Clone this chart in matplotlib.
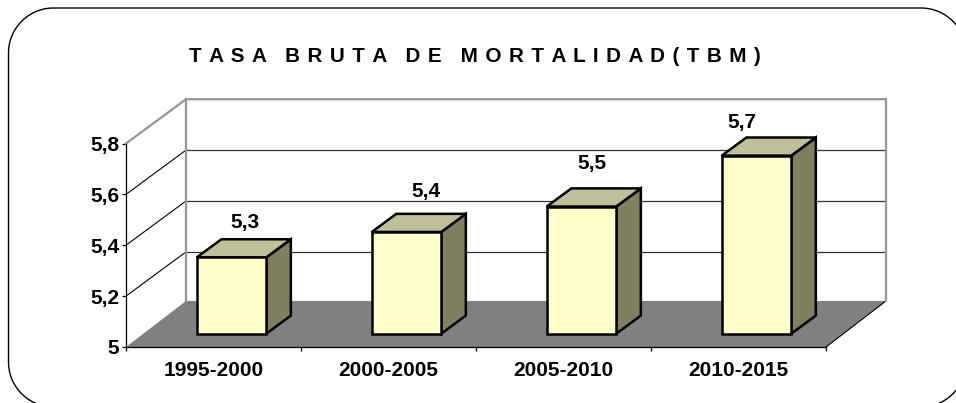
import numpy as np
import matplotlib
matplotlib.use('Agg')
import matplotlib.pyplot as plt
from matplotlib.patches import Polygon, PathPatch
from matplotlib.path import Path
from matplotlib.transforms import Affine2D

categories = ['1995-2000', '2000-2005', '2005-2010', '2010-2015']
values = [5.3, 5.4, 5.5, 5.7]
value_labels = ['5,3', '5,4', '5,5', '5,7']
y_ticks = [5.0, 5.2, 5.4, 5.6, 5.8]
y_tick_labels = ['5', '5,2', '5,4', '5,6', '5,8']
title = ('T A S A  B R U T A  D E  M O R T A L I D A D ( T B M )'
         .replace('  ', '@').replace(' ', ' \u200a').replace('@', '   \u200a'))

W, H = 956, 403
plt.rcParams['font.family'] = ['Liberation Sans', 'DejaVu Sans']
fig = plt.figure(figsize=(W / 100, H / 100), dpi=100, facecolor='white')

# rounded outer frame, in pixels (y down), running off the canvas
px = Affine2D().scale(1 / W, -1 / H).translate(0, 1) + fig.transFigure
L, T, R, B, r = 8.5, 8.0, 966.0, 407.0, 45.0
corners = [(R - r, T + r, -90, 0), (R - r, B - r, 0, 90), (L + r, B - r, 90, 180), (L + r, T + r, 180, 270)]
pts = []
for cx, cy, a0, a1 in corners:
    th = np.radians(np.linspace(a0, a1, 40))
    pts += list(zip(cx + r * np.cos(th), cy + r * np.sin(th)))
pts.append(pts[0])
fig.add_artist(PathPatch(Path(pts), transform=px, fc='white', ec='black', lw=1.0, zorder=-1))

ax = fig.add_axes([126 / W, 1 - 347 / H, 700 / W, 203.5 / H], zorder=2)
ax.set_xlim(0, len(categories))
ax.set_ylim(5, 5.8)
ax.patch.set_alpha(0)
for s in ('top', 'right'):
    ax.spines[s].set_visible(False)
for s in ('left', 'bottom'):
    ax.spines[s].set_linewidth(0.9)
    ax.spines[s].set_color('black')
    ax.spines[s].set_zorder(6)

DX, DY = 60 / 175, 0.174
GRAY = '#969696'


def proj(x, v, d):
    return x + d * DX, v + d * DY


n = len(categories)
y0, y1 = y_ticks[0], y_ticks[-1]
floor_back = y0 + 0.007
# floor
ax.add_patch(Polygon([proj(0, y0, 0), proj(n, y0, 0), proj(n, floor_back, 1), proj(0, floor_back, 1)],
                     fc='#808080', ec='none', zorder=1, clip_on=False))
ax.plot(*zip(proj(n, y0, 0), proj(n, floor_back, 1)), color='black', lw=0.8, zorder=2, clip_on=False)
# grid on back and side walls
for v in y_ticks[1:-1]:
    ax.plot(*zip(proj(0, v, 1), proj(n, v, 1)), color='#333333', lw=0.9, zorder=2, clip_on=False)
    ax.plot(*zip(proj(0, v, 0), proj(0, v, 1)), color='black', lw=0.8, zorder=2, clip_on=False)
# wall outline
ax.plot(*zip(proj(0, y1, 0), proj(0, y1, 1), proj(n, y1, 1), proj(n, floor_back, 1)),
        color=GRAY, lw=1.6, zorder=3, clip_on=False, solid_joinstyle='miter')
ax.plot(*zip(proj(0, y1, 1), proj(0, floor_back, 1)), color=GRAY, lw=1.6, zorder=3, clip_on=False)

# bars
bar_w = 0.397
d0, d1 = 0.30, 0.71
label_dx = [13.6, 19.3, 10.6, -14.7]
label_dy = [35.3, 40.0, 42.7, 33.3]
for i, v in enumerate(values):
    xl = i + 0.5 - bar_w / 2
    xr = i + 0.5 + bar_w / 2
    kw = dict(ec='black', lw=1.8, joinstyle='miter', zorder=4 + i * 0.01, clip_on=False)
    ax.add_patch(Polygon([proj(xr, y0, d0), proj(xr, y0, d1), proj(xr, v, d1), proj(xr, v, d0)], fc='#808060', **kw))
    ax.add_patch(Polygon([proj(xl, v, d0), proj(xr, v, d0), proj(xr, v, d1), proj(xl, v, d1)], fc='#BFBF99', **kw))
    ax.add_patch(Polygon([proj(xl, y0, d0), proj(xr, y0, d0), proj(xr, v, d0), proj(xl, v, d0)], fc='#FFFFCC', **kw))
    ax.annotate(value_labels[i], proj(i + 0.5, v, d0), xytext=(label_dx[i] * 0.72, label_dy[i] * 0.72),
                textcoords='offset points', ha='center', va='center', fontsize=15,
                fontweight='bold', color='black', zorder=8, annotation_clip=False)

# axes ticks
ax.set_yticks(y_ticks)
ax.set_yticklabels(y_tick_labels, fontsize=15, fontweight='bold')
ax.tick_params(axis='y', length=3, width=0.9, pad=2, color='black')
ax.set_xticks(np.arange(n + 1))
ax.set_xticklabels([])
ax.tick_params(axis='x', which='major', length=3, width=0.9, color='black')
ax.set_xticks(np.arange(n) + 0.5, minor=True)
ax.set_xticklabels(categories, minor=True, fontsize=15, fontweight='bold')
ax.tick_params(axis='x', which='minor', length=0, pad=10)

fig.text(474.5 / W, 1 - 56 / H, title, ha='center', va='center', fontsize=14.9, fontweight='bold', color='black')

fig.savefig('out.png', dpi=100)
